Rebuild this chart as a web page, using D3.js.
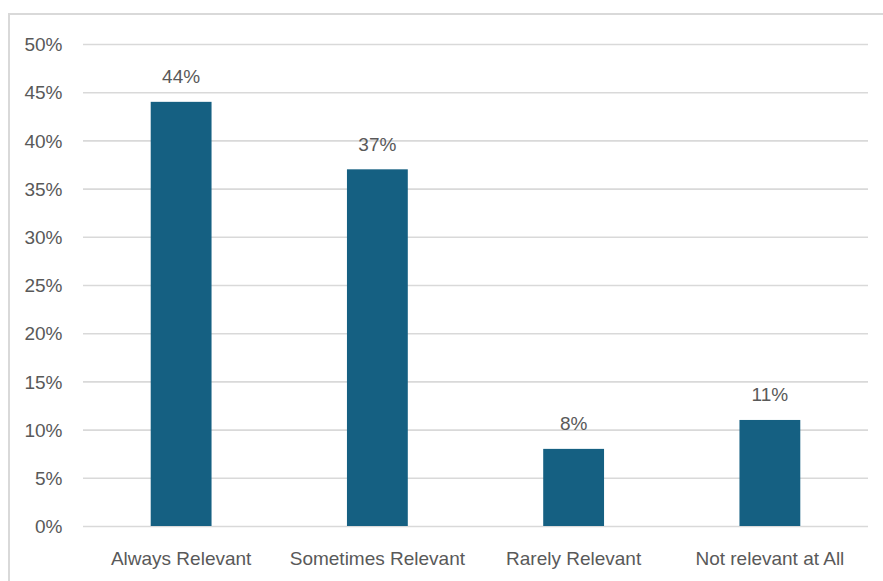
<!DOCTYPE html>
<html>
<head>
<meta charset="utf-8">
<script src="https://cdn.jsdelivr.net/npm/d3@7"></script>
<style>
  html, body { margin: 0; padding: 0; background: #ffffff; }
  svg { display: block; }
</style>
</head>
<body>
<svg id="chart" width="883" height="581"></svg>
<script>
const categories = ["Always Relevant", "Sometimes Relevant", "Rarely Relevant", "Not relevant at All"];
const values = [0.44, 0.37, 0.08, 0.11];
const yTicks = [0, 0.05, 0.10, 0.15, 0.20, 0.25, 0.30, 0.35, 0.40, 0.45, 0.50];

const W = 883, H = 581;
const plot = { left: 83, right: 868, top: 44, bottom: 526 };
const textColor = "#595959";
const gridColor = "#d9d9d9";
const barColor = "#156082";
const fontFamily = "'Liberation Sans', Arial, sans-serif";
const fontSize = 19;

const svg = d3.select("#chart");

// outer chart frame (extends past the right/bottom edges)
svg.append("rect")
  .attr("x", 9).attr("y", 14)
  .attr("width", 960).attr("height", 700)
  .attr("fill", "#ffffff")
  .attr("stroke", gridColor)
  .attr("stroke-width", 2);

const x = d3.scaleBand()
  .domain(categories)
  .range([plot.left, plot.right])
  .paddingInner(0.69)
  .paddingOuter(0.345);

const y = d3.scaleLinear()
  .domain([0, 0.5])
  .range([plot.bottom, plot.top]);

// gridlines + y labels via axis
const yAxis = d3.axisLeft(y)
  .tickValues(yTicks)
  .tickFormat(d3.format(".0%"))
  .tickSize(-(plot.right - plot.left))
  .tickPadding(plot.left - 62.5);

const gY = svg.append("g")
  .attr("transform", `translate(${plot.left},0)`)
  .call(yAxis);
gY.select(".domain").remove();
gY.selectAll(".tick line")
  .attr("stroke", gridColor)
  .attr("stroke-width", 1.6);
gY.selectAll(".tick text")
  .attr("fill", textColor)
  .attr("font-family", fontFamily)
  .attr("font-size", fontSize)
  .attr("dy", "0.35em");

// bars
svg.append("g").selectAll("rect")
  .data(categories)
  .join("rect")
  .attr("x", d => x(d))
  .attr("y", (d, i) => y(values[i]))
  .attr("width", x.bandwidth())
  .attr("height", (d, i) => y(0) - y(values[i]))
  .attr("fill", barColor);

// value labels
svg.append("g").selectAll("text")
  .data(categories)
  .join("text")
  .attr("x", d => x(d) + x.bandwidth() / 2)
  .attr("y", (d, i) => y(values[i]) - 18.5)
  .attr("text-anchor", "middle")
  .attr("fill", textColor)
  .attr("font-family", fontFamily)
  .attr("font-size", fontSize)
  .text((d, i) => d3.format(".0%")(values[i]));

// x axis labels
const xAxis = d3.axisBottom(x).tickSize(0).tickPadding(0);
const gX = svg.append("g")
  .attr("transform", `translate(0,${plot.bottom})`)
  .call(xAxis);
gX.select(".domain").remove();
gX.selectAll(".tick text")
  .attr("fill", textColor)
  .attr("font-family", fontFamily)
  .attr("font-size", fontSize)
  .attr("dy", null)
  .attr("y", 39);
</script>
</body>
</html>
